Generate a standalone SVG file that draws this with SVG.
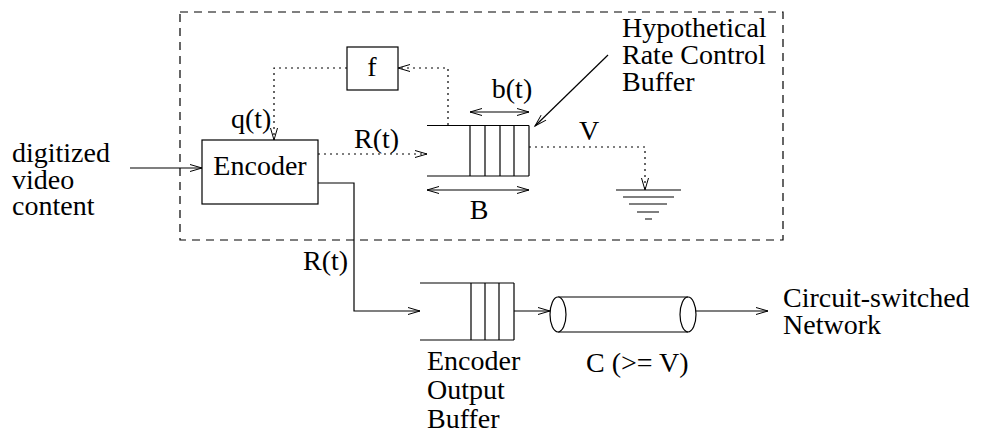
<svg xmlns="http://www.w3.org/2000/svg" width="981" height="437" viewBox="0 0 981 437">
<defs>
<marker id="ah" markerUnits="userSpaceOnUse" markerWidth="14" markerHeight="10" refX="12" refY="4" orient="auto-start-reverse" overflow="visible">
<path d="M0,0.5 L12,4 L0,7.5" fill="none" stroke="#000" stroke-width="1"/>
</marker>
</defs>
<rect x="180" y="12" width="603" height="228" fill="none" stroke="#000" stroke-width="1.2" stroke-dasharray="8 6"/>
<g id="connectors" fill="none" stroke="#000" stroke-width="1.2">
<path d="M130,168 H202" marker-end="url(#ah)"/>
<path d="M347,68 H274 V140" stroke-dasharray="2 4" marker-end="url(#ah)"/>
<path d="M448,125 V68 H398" stroke-dasharray="2 4" marker-end="url(#ah)"/>
<path d="M318,154 H427" stroke-dasharray="2 4" marker-end="url(#ah)"/>
<path d="M529,147 H645 V190" stroke-dasharray="2 4" marker-end="url(#ah)"/>
<path d="M470,112 H529" marker-start="url(#ah)" marker-end="url(#ah)"/>
<path d="M427,190 H529" marker-start="url(#ah)" marker-end="url(#ah)"/>
<path d="M608,55 L535,126" marker-end="url(#ah)"/>
<path d="M318,183 H354 V311 H420" marker-end="url(#ah)"/>
<path d="M514,311 H550" marker-end="url(#ah)"/>
<path d="M696,311 H768" marker-end="url(#ah)"/>
</g>
<g id="input-label">
<text x="12" y="162" font-family="Liberation Serif" font-size="28" style="font-family:'Liberation Serif' !important">digitized</text>
<text x="12" y="189" font-family="Liberation Serif" font-size="28" style="font-family:'Liberation Serif' !important">video</text>
<text x="12" y="215" font-family="Liberation Serif" font-size="28" style="font-family:'Liberation Serif' !important">content</text>
</g>
<g id="encoder">
<rect x="202" y="140" width="116" height="64" fill="#fff" stroke="#000" stroke-width="1.2"/>
<text x="260" y="175" text-anchor="middle" font-family="Liberation Serif" font-size="28" style="font-family:'Liberation Serif' !important">Encoder</text>
</g>
<g id="f">
<rect x="347" y="47" width="51" height="43" fill="#fff" stroke="#000" stroke-width="1.2"/>
<text x="372" y="76" text-anchor="middle" font-family="Liberation Serif" font-size="28" style="font-family:'Liberation Serif' !important">f</text>
</g>
<g id="labels">
<text x="231" y="128" font-family="Liberation Serif" font-size="28" style="font-family:'Liberation Serif' !important">q(t)</text>
<text x="354" y="148" font-family="Liberation Serif" font-size="28" style="font-family:'Liberation Serif' !important">R(t)</text>
<text x="589" y="140" text-anchor="middle" font-family="Liberation Serif" font-size="28" style="font-family:'Liberation Serif' !important">V</text>
<text x="303" y="270" font-family="Liberation Serif" font-size="28" style="font-family:'Liberation Serif' !important">R(t)</text>
</g>
<g id="rate-buffer">
<path d="M427,125.5 H529 M427,176 H529 M470,125.5 V176 M485,125.5 V176 M500,125.5 V176 M514,125.5 V176 M529,125.5 V176" fill="none" stroke="#000" stroke-width="1.2"/>
<text x="512" y="98" text-anchor="middle" font-family="Liberation Serif" font-size="28" style="font-family:'Liberation Serif' !important">b(t)</text>
<text x="479" y="219" text-anchor="middle" font-family="Liberation Serif" font-size="28" style="font-family:'Liberation Serif' !important">B</text>
</g>
<g id="ground">
<path d="M616,190 H681 M623,197 H674 M629,204 H667 M637,212 H659 M645,219 H652" fill="none" stroke="#000" stroke-width="1.2"/>
</g>
<g id="hyp-label">
<text x="622" y="37" font-family="Liberation Serif" font-size="28" style="font-family:'Liberation Serif' !important">Hypothetical</text>
<text x="622" y="64" font-family="Liberation Serif" font-size="28" style="font-family:'Liberation Serif' !important">Rate Control</text>
<text x="622" y="91" font-family="Liberation Serif" font-size="28" style="font-family:'Liberation Serif' !important">Buffer</text>
</g>
<g id="output-buffer">
<path d="M420,283 H514 M420,340 H514 M471,283 V340 M485,283 V340 M499,283 V340 M514,283 V340" fill="none" stroke="#000" stroke-width="1.2"/>
<text x="427" y="370" font-family="Liberation Serif" font-size="28" style="font-family:'Liberation Serif' !important">Encoder</text>
<text x="427" y="399" font-family="Liberation Serif" font-size="28" style="font-family:'Liberation Serif' !important">Output</text>
<text x="427" y="428" font-family="Liberation Serif" font-size="28" style="font-family:'Liberation Serif' !important">Buffer</text>
</g>
<g id="channel">
<path d="M558,297 H688 M558,332 H688" fill="none" stroke="#000" stroke-width="1.2"/>
<ellipse cx="558" cy="314.5" rx="8" ry="17.5" fill="#fff" stroke="#000" stroke-width="1.2"/>
<ellipse cx="688" cy="314.5" rx="8" ry="17.5" fill="none" stroke="#000" stroke-width="1.2"/>
<text x="586" y="372" font-family="Liberation Serif" font-size="28" style="font-family:'Liberation Serif' !important">C (&gt;= V)</text>
</g>
<g id="network-label">
<text x="783" y="307" font-family="Liberation Serif" font-size="28" style="font-family:'Liberation Serif' !important">Circuit-switched</text>
<text x="783" y="334" font-family="Liberation Serif" font-size="28" style="font-family:'Liberation Serif' !important">Network</text>
</g>
</svg>
